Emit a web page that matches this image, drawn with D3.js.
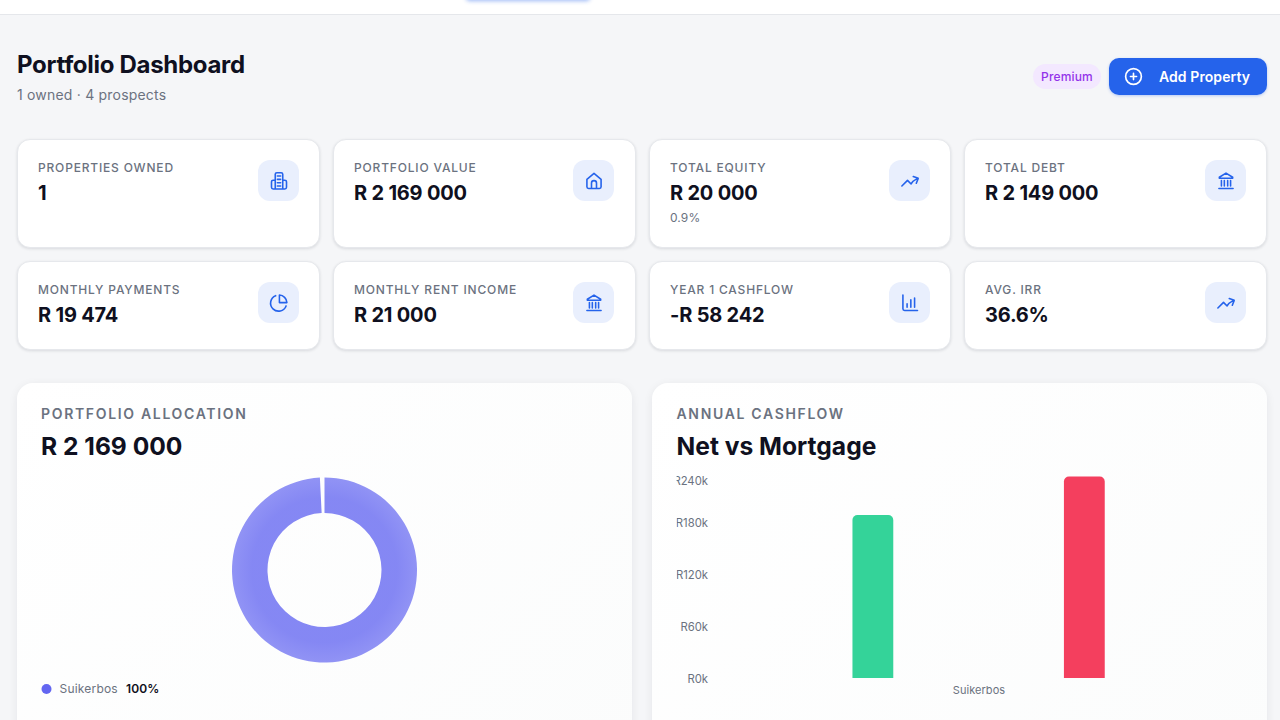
<!DOCTYPE html>
<html><head><meta charset="utf-8">
<script src="https://cdn.jsdelivr.net/npm/d3@7"></script>
<style>
*{box-sizing:border-box}
html,body{margin:0;width:1280px;height:720px;overflow:hidden;background:#f5f6f8;font-family:Inter,sans-serif;color:#0f1020}
.abs{position:absolute}
.card{position:absolute;background:#fff;border:1px solid #e6e8ec;border-radius:13px;box-shadow:0 1px 3px rgba(15,23,42,.12)}
.lab{position:absolute;left:20px;top:20px;font-size:12px;font-weight:500;letter-spacing:.82px;color:#6b7280;line-height:15px;white-space:nowrap}
.val{position:absolute;left:20px;top:39px;font-size:20px;font-weight:700;letter-spacing:-.2px;color:#0f1020;line-height:28px;white-space:pre}
.sub{position:absolute;left:20px;top:70px;font-size:12px;letter-spacing:.1px;color:#6b7280;line-height:15px}
.tile{position:absolute;top:20px;width:41px;height:41px;border-radius:12px;background:#e9effd;display:flex;align-items:center;justify-content:center}
.panel{position:absolute;top:383px;height:400px;border-radius:16px;background:linear-gradient(135deg,#fff,#fbfcfc);box-shadow:0 2px 10px rgba(15,23,42,.07)}
.ptitle{position:absolute;top:22px;font-size:14px;font-weight:600;letter-spacing:1.67px;color:#6b7280;line-height:17px;white-space:nowrap}
.pval{position:absolute;top:47px;font-size:24.6px;font-weight:700;color:#0f1020;line-height:33px;white-space:pre}
svg text{font-family:Inter,sans-serif}
</style></head><body>
<div id="page"></div>
<script>
const pageTitle = "Portfolio Dashboard";
const pageSub = "1 owned · 4 prospects";
const cardLabels = ["PROPERTIES OWNED","PORTFOLIO VALUE","TOTAL EQUITY","TOTAL DEBT","MONTHLY PAYMENTS","MONTHLY RENT INCOME","YEAR 1 CASHFLOW","AVG. IRR"];
const cardValues = ["1","R 2 169 000","R 20 000","R 2 149 000","R 19 474","R 21 000","-R 58 242","36.6%"];
const cardSubs = ["","","0.9%","","","","",""];
const cardIcons = ["building","home","trend","bank","pie","bank","bars","trend"];
const allocationNames = ["Suikerbos"];
const allocationValues = [2169000];
const allocationColors = ["#6366f1"];
const cashflowCategories = ["Suikerbos"];
const cashflowSeries = ["Net","Mortgage"];
const cashflowValues = [189000,233688];
const cashflowColors = ["#34d399","#f43f5e"];
const yTicks = [0,60000,120000,180000,240000];

const iconPaths = {
  trend:"M2.25 18 9 11.25l4.306 4.306a11.95 11.95 0 0 1 5.814-5.518l2.74-1.22m0 0-5.94-2.281m5.94 2.28-2.28 5.941",
  bank:"M12 2.5 4 7.5v1.2h16V7.5ZM6.5 11.5v6.5M10 11.5v6.5M14 11.5v6.5M17.5 11.5v6.5M3.5 21h17",
  pie:"M20.5 15.5A9.6 9.6 0 1 1 8 3.2M21.5 11.5A9.6 9.6 0 0 0 12.5 2.5v9Z",
  bars:"M3.5 2.5V19a2 2 0 0 0 2 2h15.5M8.5 17v-4M13 17V8M17.5 17V6",
  home:"M3.5 10 12 2.8l8.5 7.2v9a2 2 0 0 1-2 2h-13a2 2 0 0 1-2-2ZM9 21v-6.5a3 3 0 0 1 6 0V21",
  building:"M7.5 21.5V4a2 2 0 0 1 2-2h5a2 2 0 0 1 2 2v17.5M7.5 11H5a2 2 0 0 0-2 2v6.5a2 2 0 0 0 2 2h14a2 2 0 0 0 2-2V13a2 2 0 0 0-2-2h-2.5M10 6h4M10 10h4M10 14h4M10 18h4",
  plus:"M12 8.5v7M8.5 12h7M21 12a9 9 0 1 1-18 0 9 9 0 0 1 18 0Z"
};
const icon = (sel,name,color,size) => sel.append("svg").attr("width",size).attr("height",size).attr("viewBox","0 0 24 24")
  .append("path").attr("d",iconPaths[name]).attr("fill","none").attr("stroke",color).attr("stroke-width",1.9).attr("stroke-linecap","round").attr("stroke-linejoin","round");

const page = d3.select("#page");
page.append("div").attr("class","abs").style("left","0").style("top","0").style("width","1280px").style("height","15px").style("background","#fff").style("border-bottom","1px solid #e5e7eb");
page.append("div").attr("class","abs").style("left","466px").style("top","-8px").style("width","124px").style("height","8px").style("border-radius","6px").style("background","#2563eb").style("box-shadow","0 1px 4px rgba(37,99,235,.45)");
page.append("div").attr("class","abs").style("left","17px").style("top","48.5px").style("font-size","24px").style("font-weight","700").style("letter-spacing","-.3px").style("line-height","31px").style("white-space","nowrap").text(pageTitle);
page.append("div").attr("class","abs").style("left","17px").style("top","86px").style("font-size","14px").style("letter-spacing",".2px").style("color","#6b7280").style("line-height","18px").style("white-space","nowrap").text(pageSub);
page.append("div").attr("class","abs").style("left","1033px").style("top","64px").style("width","68px").style("height","25px").style("border-radius","13px").style("background","#f3e8ff").style("color","#9333ea").style("font-size","12px").style("font-weight","500").style("letter-spacing",".15px").style("line-height","25px").style("text-align","center").text("Premium");
const btn = page.append("div").attr("class","abs").style("left","1109px").style("top","58px").style("width","158px").style("height","37px").style("border-radius","10px").style("background","#2563eb").style("box-shadow","0 1px 3px rgba(37,99,235,.3)");
icon(btn.append("div").attr("class","abs").style("left","14px").style("top","8px").style("line-height","0"),"plus","#fff",21);
btn.append("div").attr("class","abs").style("left","50px").style("top","0").style("color","#fff").style("font-size","14px").style("font-weight","600").style("letter-spacing",".08px").style("line-height","37px").style("white-space","nowrap").text("Add Property");

const cardX = [17,333,649,964], cardW = [303,303,302,303], tileX = [240,239,239,240];
cardLabels.forEach((l,i)=>{
  const c = i%4, r = i>3;
  const card = page.append("div").attr("class","card").style("left",cardX[c]+"px").style("top",(r?261:139)+"px").style("width",cardW[c]+"px").style("height",(r?89:109)+"px");
  card.append("div").attr("class","lab").text(l);
  card.append("div").attr("class","val").text(cardValues[i]);
  if(cardSubs[i]) card.append("div").attr("class","sub").text(cardSubs[i]);
  icon(card.append("div").attr("class","tile").style("left",tileX[c]+"px"),cardIcons[i],"#2563eb",20);
});

const p1 = page.append("div").attr("class","panel").style("left","17px").style("width","615px");
p1.append("div").attr("class","ptitle").style("left","24px").text("PORTFOLIO ALLOCATION");
p1.append("div").attr("class","pval").style("left","24px").text("R 2 169 000");
const p2 = page.append("div").attr("class","panel").style("left","652px").style("width","615px");
p2.append("div").attr("class","ptitle").style("left","24.5px").text("ANNUAL CASHFLOW");
p2.append("div").attr("class","pval").style("left","24.5px").text("Net vs Mortgage");

const svg = page.append("svg").attr("class","abs").style("left","0").style("top","0").attr("width",1280).attr("height",720);
const defs = svg.append("defs");
const grad = defs.append("radialGradient").attr("id","donut").attr("gradientUnits","userSpaceOnUse").attr("cx",0).attr("cy",0).attr("r",93);
[[.6,.78],[.78,.78],[1,.7]].forEach(([o,a])=>grad.append("stop").attr("offset",o).attr("stop-color",allocationColors[0]).attr("stop-opacity",a));
defs.append("clipPath").attr("id","yclip").append("rect").attr("x",676.6).attr("y",460).attr("width",40).attr("height",240);

// donut
const pie = d3.pie().sort(null).startAngle(0).endAngle(2*Math.PI-0.05);
const arc = d3.arc().innerRadius(57).outerRadius(92.5);
svg.append("g").attr("transform","translate(324.5,570)").selectAll("path").data(pie(allocationValues)).join("path")
  .attr("d",arc).attr("fill","url(#donut)");
// legend
const lg = svg.append("g").selectAll("g").data(allocationNames).join("g");
lg.append("circle").attr("cx",46.5).attr("cy",689).attr("r",5).attr("fill",(d,i)=>allocationColors[i]);
lg.append("text").attr("x",59.5).attr("y",693).attr("font-size",12).attr("letter-spacing",".2").attr("fill","#6b7280").text(d=>d);
lg.append("text").attr("x",126).attr("y",693).attr("font-size",12).attr("letter-spacing",".15").attr("font-weight",600).attr("fill","#0f1020").text("100%");

// bars
const y = d3.scaleLinear().domain([0,240000]).range([678,471]);
const x0 = d3.scaleBand().domain(cashflowCategories).range([707.6,1249.6]);
const x1 = d3.scaleBand().domain(cashflowSeries).range([0,x0.bandwidth()]).paddingInner(.807).paddingOuter(.685);
const yAxis = d3.axisLeft(y).tickValues(yTicks).tickSize(0).tickPadding(0).tickFormat(v=>`R${v/1000}k`);
const clipWrap = svg.append("g").attr("clip-path","url(#yclip)");
const gy = clipWrap.append("g").attr("transform","translate(708,0)").call(yAxis);
gy.select(".domain").remove();
gy.selectAll("text").attr("font-size",11.3).attr("fill","#6b7280").attr("dy",".36em").style("font-family","Inter,sans-serif")
  .attr("y",v=>Math.max(y(v),480)-y(v));
const gx = svg.append("g").attr("transform","translate(0.4,678)").call(d3.axisBottom(x0).tickSize(0).tickPadding(8));
gx.select(".domain").remove();
gx.selectAll("text").attr("font-size",11).attr("letter-spacing",".05").attr("fill","#6b7280").style("font-family","Inter,sans-serif");
const topRound = d => {
  const X = x0(cashflowCategories[0])+x1(d.s), W = x1.bandwidth(), T = y(d.v), B = y(0), R = 5;
  const p = d3.path();
  p.moveTo(X,B); p.lineTo(X,T+R); p.arcTo(X,T,X+R,T,R); p.lineTo(X+W-R,T); p.arcTo(X+W,T,X+W,T+R,R); p.lineTo(X+W,B); p.closePath();
  return p.toString();
};
svg.append("g").selectAll("path").data(cashflowSeries.map((s,i)=>({s,v:cashflowValues[i],c:cashflowColors[i]}))).join("path")
  .attr("d",topRound).attr("fill",d=>d.c);
</script>
</body></html>
